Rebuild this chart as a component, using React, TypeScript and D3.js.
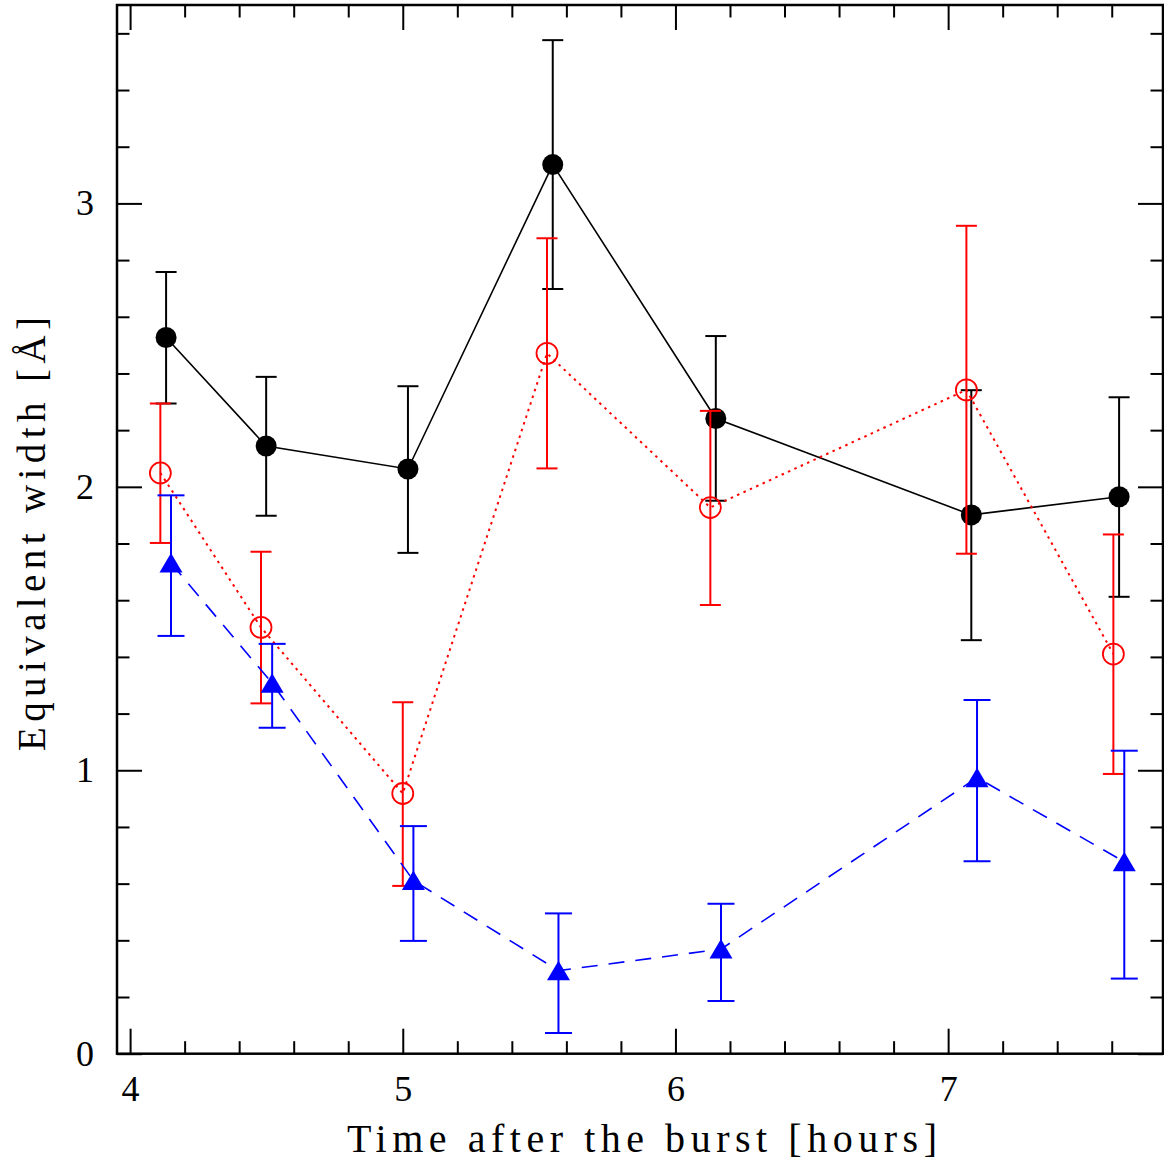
import React, { useRef, useEffect } from 'react';
import * as d3 from 'd3';

// --- DATA ---
const blackTime = [4.132, 4.499, 5.019, 5.550, 6.148, 7.085, 7.627];
const blackWidth = [2.527, 2.144, 2.063, 3.137, 2.241, 1.901, 1.965];
const blackHi = [2.758, 2.388, 2.355, 3.576, 2.532, 2.341, 2.316];
const blackLo = [2.294, 1.898, 1.767, 2.698, 1.951, 1.459, 1.612];

const redTime = [4.111, 4.480, 5.000, 5.529, 6.128, 7.067, 7.606];
const redWidth = [2.049, 1.504, 0.918, 2.471, 1.927, 2.342, 1.410];
const redHi = [2.294, 1.771, 1.240, 2.877, 2.268, 2.921, 1.832];
const redLo = [1.802, 1.236, 0.592, 2.065, 1.583, 1.764, 0.987];

const blueTime = [4.150, 4.521, 5.039, 5.571, 6.167, 7.106, 7.646];
const blueWidth = [1.731, 1.307, 0.611, 0.293, 0.369, 0.974, 0.677];
const blueHi = [1.970, 1.446, 0.803, 0.495, 0.529, 1.248, 1.069];
const blueLo = [1.474, 1.150, 0.398, 0.073, 0.186, 0.679, 0.265];

const xMajorTicks = [4, 5, 6, 7];
const xMinorTicks = [4.2, 4.4, 4.6, 4.8, 5.2, 5.4, 5.6, 5.8, 6.2, 6.4, 6.6, 6.8, 7.2, 7.4, 7.6];
const yMajorTicks = [0, 1, 2, 3];
const yMinorTicks = [0.2, 0.4, 0.6, 0.8, 1.2, 1.4, 1.6, 1.8, 2.2, 2.4, 2.6, 2.8, 3.2, 3.4, 3.6];

const xTitle = "Time after the burst [hours]";
const yTitle = "Equivalent width [Å]";

const zip = (t: number[], w: number[], hi: number[], lo: number[]) =>
  t.map((x, i) => ({ x, y: w[i], hi: hi[i], lo: lo[i] }));

export default function App() {
  const svgRef = useRef<SVGSVGElement>(null);

  useEffect(() => {
    if (!svgRef.current) return;
    const W = 1164, H = 1165;
    const margin = { top: 5, right: 1, bottom: 111.3, left: 117 };
    const width = W - margin.left - margin.right;
    const height = H - margin.top - margin.bottom;
    const font = "'Liberation Serif', 'DejaVu Serif', serif";

    const svg = d3.select(svgRef.current);
    svg.selectAll("*").remove();
    svg.attr("width", W).attr("height", H);

    const chart = svg.append("g").attr("transform", `translate(${margin.left},${margin.top})`);

    const xScale = d3.scaleLinear().domain([3.952, 7.788]).range([0, width]);
    const yScale = d3.scaleLinear().domain([0, 3.7]).range([height, 0]);

    // inward ticks on all four sides
    const styleAxis = (sel: d3.Selection<SVGGElement, any, null, undefined>) => {
      sel.select(".domain").remove();
      sel.selectAll(".tick line").attr("stroke", "#000").attr("stroke-width", 2);
      sel.selectAll("text")
        .attr("fill", "#000")
        .style("font-family", font)
        .style("font-weight", "normal")
        .style("font-size", "36px");
    };

    const bottomMinor = chart.append("g").attr("transform", `translate(0,${height})`)
      .call(d3.axisBottom(xScale).tickValues(xMinorTicks).tickSize(-12.5).tickFormat(() => ""));
    styleAxis(bottomMinor);
    const bottomMajor = chart.append("g").attr("transform", `translate(0,${height})`)
      .call(d3.axisBottom(xScale).tickValues(xMajorTicks).tickSize(-25).tickPadding(22).tickFormat(d3.format("d")));
    styleAxis(bottomMajor);
    const topMinor = chart.append("g")
      .call(d3.axisTop(xScale).tickValues(xMinorTicks).tickSize(-12.5).tickFormat(() => ""));
    styleAxis(topMinor);
    const topMajor = chart.append("g")
      .call(d3.axisTop(xScale).tickValues(xMajorTicks).tickSize(-25).tickFormat(() => ""));
    styleAxis(topMajor);

    const leftMinor = chart.append("g")
      .call(d3.axisLeft(yScale).tickValues(yMinorTicks).tickSize(-12.5).tickFormat(() => ""));
    styleAxis(leftMinor);
    const leftMajor = chart.append("g")
      .call(d3.axisLeft(yScale).tickValues(yMajorTicks).tickSize(-25).tickPadding(23).tickFormat(d3.format("d")));
    styleAxis(leftMajor);
    const rightMinor = chart.append("g").attr("transform", `translate(${width},0)`)
      .call(d3.axisRight(yScale).tickValues(yMinorTicks).tickSize(-12.5).tickFormat(() => ""));
    styleAxis(rightMinor);
    const rightMajor = chart.append("g").attr("transform", `translate(${width},0)`)
      .call(d3.axisRight(yScale).tickValues(yMajorTicks).tickSize(-25).tickFormat(() => ""));
    styleAxis(rightMajor);

    // frame
    chart.append("rect")
      .attr("x", 0).attr("y", 0).attr("width", width).attr("height", height)
      .attr("fill", "none").attr("stroke", "#000").attr("stroke-width", 2.5);

    // axis titles (letter-spaced like the plotting package's stroke font)
    chart.append("text")
      .attr("x", 642 - margin.left)
      .attr("y", 1152 - margin.top)
      .attr("text-anchor", "middle")
      .attr("textLength", 590)
      .attr("lengthAdjust", "spacing")
      .style("font-family", font)
      .style("font-size", "40px")
      .text(xTitle);

    chart.append("text")
      .attr("transform", `translate(${45 - margin.left},${534 - margin.top}) rotate(-90)`)
      .attr("text-anchor", "middle")
      .attr("textLength", 434)
      .attr("lengthAdjust", "spacing")
      .style("font-family", font)
      .style("font-size", "39px")
      .text(yTitle);

    const series = [
      { data: zip(blackTime, blackWidth, blackHi, blackLo), color: "#000000", dash: null, cap: 10.5, marker: "dot" },
      { data: zip(redTime, redWidth, redHi, redLo), color: "#ff0000", dash: "2.5 4.5", cap: 10.5, marker: "ring" },
      { data: zip(blueTime, blueWidth, blueHi, blueLo), color: "#0000ff", dash: "16 11", cap: 13.5, marker: "tri" },
    ];

    const line = d3.line<{ x: number; y: number }>().x(d => xScale(d.x)).y(d => yScale(d.y));

    series.forEach(s => {
      const g = chart.append("g");

      // error bars
      const eb = g.selectAll("g.eb").data(s.data).enter().append("g")
        .attr("stroke", s.color).attr("stroke-width", 2).attr("fill", "none");
      eb.append("line")
        .attr("x1", d => xScale(d.x)).attr("x2", d => xScale(d.x))
        .attr("y1", d => yScale(d.hi)).attr("y2", d => yScale(d.lo));
      eb.append("line")
        .attr("x1", d => xScale(d.x) - s.cap).attr("x2", d => xScale(d.x) + s.cap)
        .attr("y1", d => yScale(d.hi)).attr("y2", d => yScale(d.hi));
      eb.append("line")
        .attr("x1", d => xScale(d.x) - s.cap).attr("x2", d => xScale(d.x) + s.cap)
        .attr("y1", d => yScale(d.lo)).attr("y2", d => yScale(d.lo));

      // connecting line
      g.append("path")
        .datum(s.data)
        .attr("d", line)
        .attr("fill", "none")
        .attr("stroke", s.color)
        .attr("stroke-width", s.marker === "ring" ? 2 : 1.6)
        .attr("stroke-dasharray", s.dash ?? null);

      // markers
      if (s.marker === "dot") {
        g.selectAll("circle").data(s.data).enter().append("circle")
          .attr("cx", d => xScale(d.x)).attr("cy", d => yScale(d.y))
          .attr("r", 10.5).attr("fill", s.color);
      } else if (s.marker === "ring") {
        g.selectAll("circle").data(s.data).enter().append("circle")
          .attr("cx", d => xScale(d.x)).attr("cy", d => yScale(d.y))
          .attr("r", 10.5).attr("fill", "none").attr("stroke", s.color).attr("stroke-width", 1.8);
      } else {
        g.selectAll("path.tri").data(s.data).enter().append("path")
          .attr("class", "tri")
          .attr("transform", d => `translate(${xScale(d.x)},${yScale(d.y)})`)
          .attr("d", "M0,-10L11.5,9.5L-11.5,9.5Z")
          .attr("fill", s.color);
      }
    });
  }, []);

  return (
    <svg ref={svgRef} style={{ position: 'absolute', left: 0, top: 0, display: 'block', background: '#fff' }}></svg>
  );
}
